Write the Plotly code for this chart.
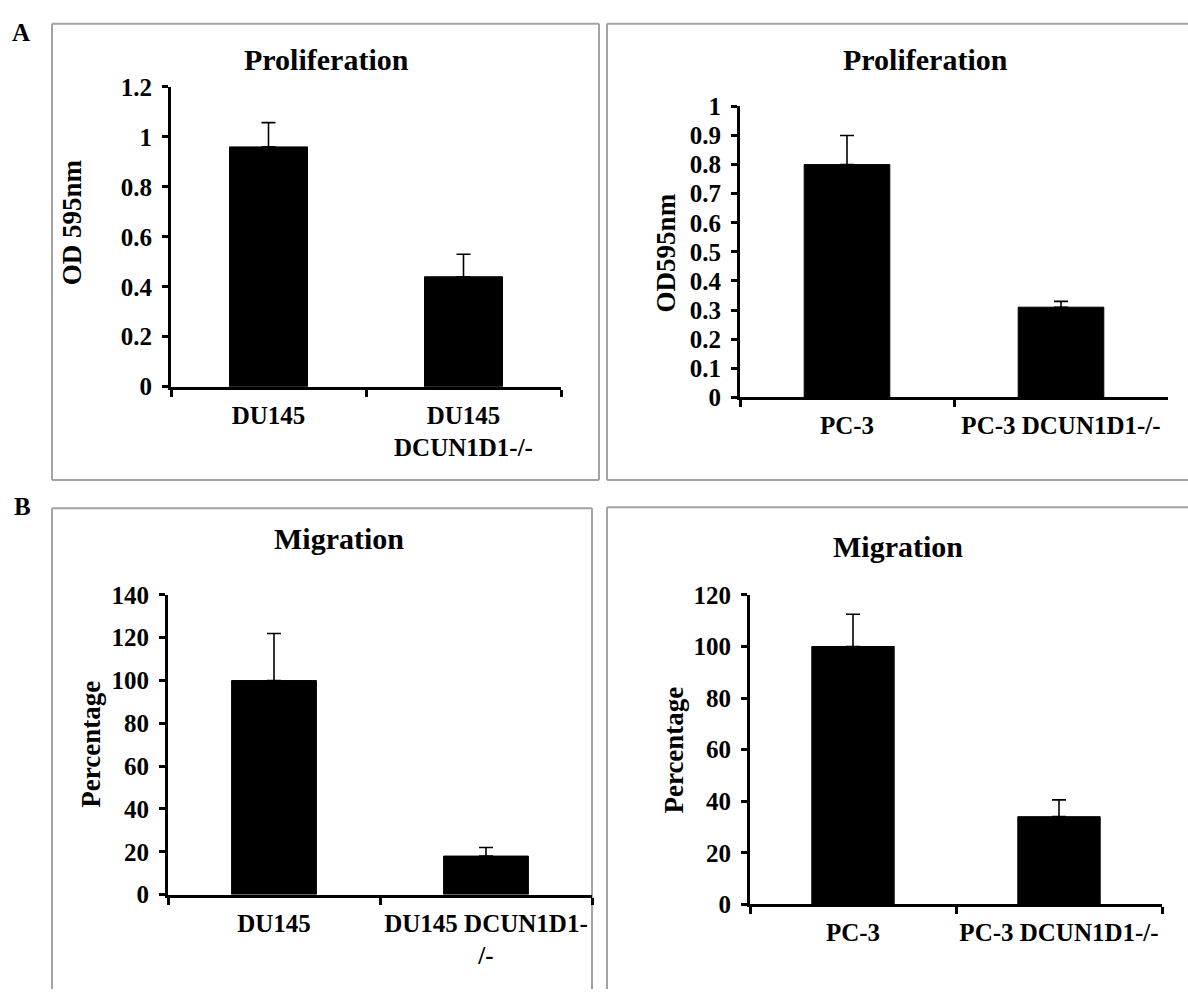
import plotly.graph_objects as go

W, H = 1188, 1003

# ---------------- data ----------------
a1_categories = ["DU145", "DU145<br>DCUN1D1-/-"]
a1_values = [0.96, 0.44]
a1_errors = [0.097, 0.09]

a2_categories = ["PC-3", "PC-3 DCUN1D1-/-"]
a2_values = [0.80, 0.31]
a2_errors = [0.10, 0.02]

b1_categories = ["DU145", "DU145 DCUN1D1-<br>/-"]
b1_values = [100, 18]
b1_errors = [22, 4]

b2_categories = ["PC-3", "PC-3 DCUN1D1-/-"]
b2_values = [100, 34]
b2_errors = [12.5, 6.5]

FONT = "Liberation Serif"


def px(x):
    return x / W


def py(y):
    return 1 - y / H


panels = [
    dict(cats=a1_categories, vals=a1_values, errs=a1_errors, xd=(171, 561), yd=(76, 384),
         yr=(0, 1.2), dtick=0.2, title="Proliferation", tpos=(326, 48),
         ytitle="OD 595nm", ytpos=(72, 215)),
    dict(cats=a2_categories, vals=a2_values, errs=a2_errors, xd=(740, 1168), yd=(96, 395),
         yr=(0, 1.0), dtick=0.1, title="Proliferation", tpos=(926, 48),
         ytitle="OD595nm", ytpos=(666, 246)),
    dict(cats=b1_categories, vals=b1_values, errs=b1_errors, xd=(168, 592), yd=(598, 906),
         yr=(0, 140), dtick=20, title="Migration", tpos=(339, 540),
         ytitle="Percentage", ytpos=(91, 752)),
    dict(cats=b2_categories, vals=b2_values, errs=b2_errors, xd=(750, 1162), yd=(598, 916),
         yr=(0, 120), dtick=20, title="Migration", tpos=(898, 548),
         ytitle="Percentage", ytpos=(674, 758)),
]

fig = go.Figure()
annotations = []
layout_axes = {}

for i, p in enumerate(panels, start=1):
    xa = "x" if i == 1 else f"x{i}"
    ya = "y" if i == 1 else f"y{i}"
    fig.add_trace(go.Bar(
        x=p["cats"], y=p["vals"], xaxis=xa, yaxis=ya,
        marker=dict(color="black", line=dict(color="black", width=1)),
        width=0.4,
        error_y=dict(type="data", array=p["errs"], arrayminus=[0] * len(p["errs"]),
                     symmetric=False, color="black", thickness=1.6, width=7),
        showlegend=False, hoverinfo="skip",
    ))
    xkey = "xaxis" if i == 1 else f"xaxis{i}"
    ykey = "yaxis" if i == 1 else f"yaxis{i}"
    layout_axes[xkey] = dict(
        domain=[px(p["xd"][0]), px(p["xd"][1])], anchor=ya,
        type="category", range=[-0.5, len(p["cats"]) - 0.5],
        showline=True, linecolor="black", linewidth=3,
        ticks="outside", tickson="boundaries", ticklen=7, tickwidth=2.5, tickcolor="black",
        showgrid=False, zeroline=False, fixedrange=True, tickangle=0,
        tickfont=dict(family=FONT, size=25, color="black", weight="bold"),
        ticklabelstandoff=4,
    )
    layout_axes[ykey] = dict(
        domain=[py(p["yd"][1]), py(p["yd"][0])], anchor=xa,
        range=list(p["yr"]), dtick=p["dtick"], tick0=0,
        showline=True, linecolor="black", linewidth=3,
        ticks="outside", ticklen=6, tickwidth=2.5, tickcolor="black",
        showgrid=False, zeroline=False, fixedrange=True,
        tickfont=dict(family=FONT, size=25, color="black", weight="bold"),
        ticklabelstandoff=5,
    )
    annotations.append(dict(
        text=p["title"], x=px(p["tpos"][0]), y=py(p["tpos"][1]), xref="paper", yref="paper",
        xanchor="center", yanchor="middle", showarrow=False,
        font=dict(family=FONT, size=30, color="black", weight="bold"),
    ))
    annotations.append(dict(
        text=p["ytitle"], x=px(p["ytpos"][0]), y=py(p["ytpos"][1]), xref="paper", yref="paper",
        xanchor="center", yanchor="middle", showarrow=False, textangle=-90,
        font=dict(family=FONT, size=27, color="black", weight="bold"),
    ))

for label, (lx, ly) in [("A", (21, 20)), ("B", (22, 507))]:
    annotations.append(dict(
        text=label, x=px(lx), y=py(ly), xref="paper", yref="paper",
        xanchor="center", yanchor="middle", showarrow=False,
        font=dict(family=FONT, size=25, color="black", weight="bold"),
    ))

# panel frames, drawn as individual edges that stay inside the page
frame_edges = [
    # A left
    (52, 11, 599, 11), (52, 11, 52, 480), (599, 11, 599, 480), (52, 480, 599, 480),
    # A right (right edge lies beyond the page)
    (607, 11, 1188, 11), (607, 11, 607, 480), (607, 480, 1188, 480),
    # B left (bottom edge beyond the page)
    (52, 509, 592, 509), (52, 509, 52, 1003), (592, 509, 592, 1003),
    # B right
    (607, 508, 1188, 508), (607, 508, 607, 1003),
]
shapes = []
for (x0, y0, x1, y1) in frame_edges:
    shapes.append(dict(type="line", xref="paper", yref="paper",
                       x0=px(x0), x1=px(x1), y0=py(y0), y1=py(y1),
                       line=dict(color="#a3a3a3", width=2), layer="below"))

fig.update_layout(
    width=W, height=H, margin=dict(l=0, r=0, t=0, b=0),
    paper_bgcolor="white", plot_bgcolor="white",
    annotations=annotations, shapes=shapes, bargap=0.6,
    **layout_axes,
)

fig.write_html("out.html", config={"displayModeBar": False})
